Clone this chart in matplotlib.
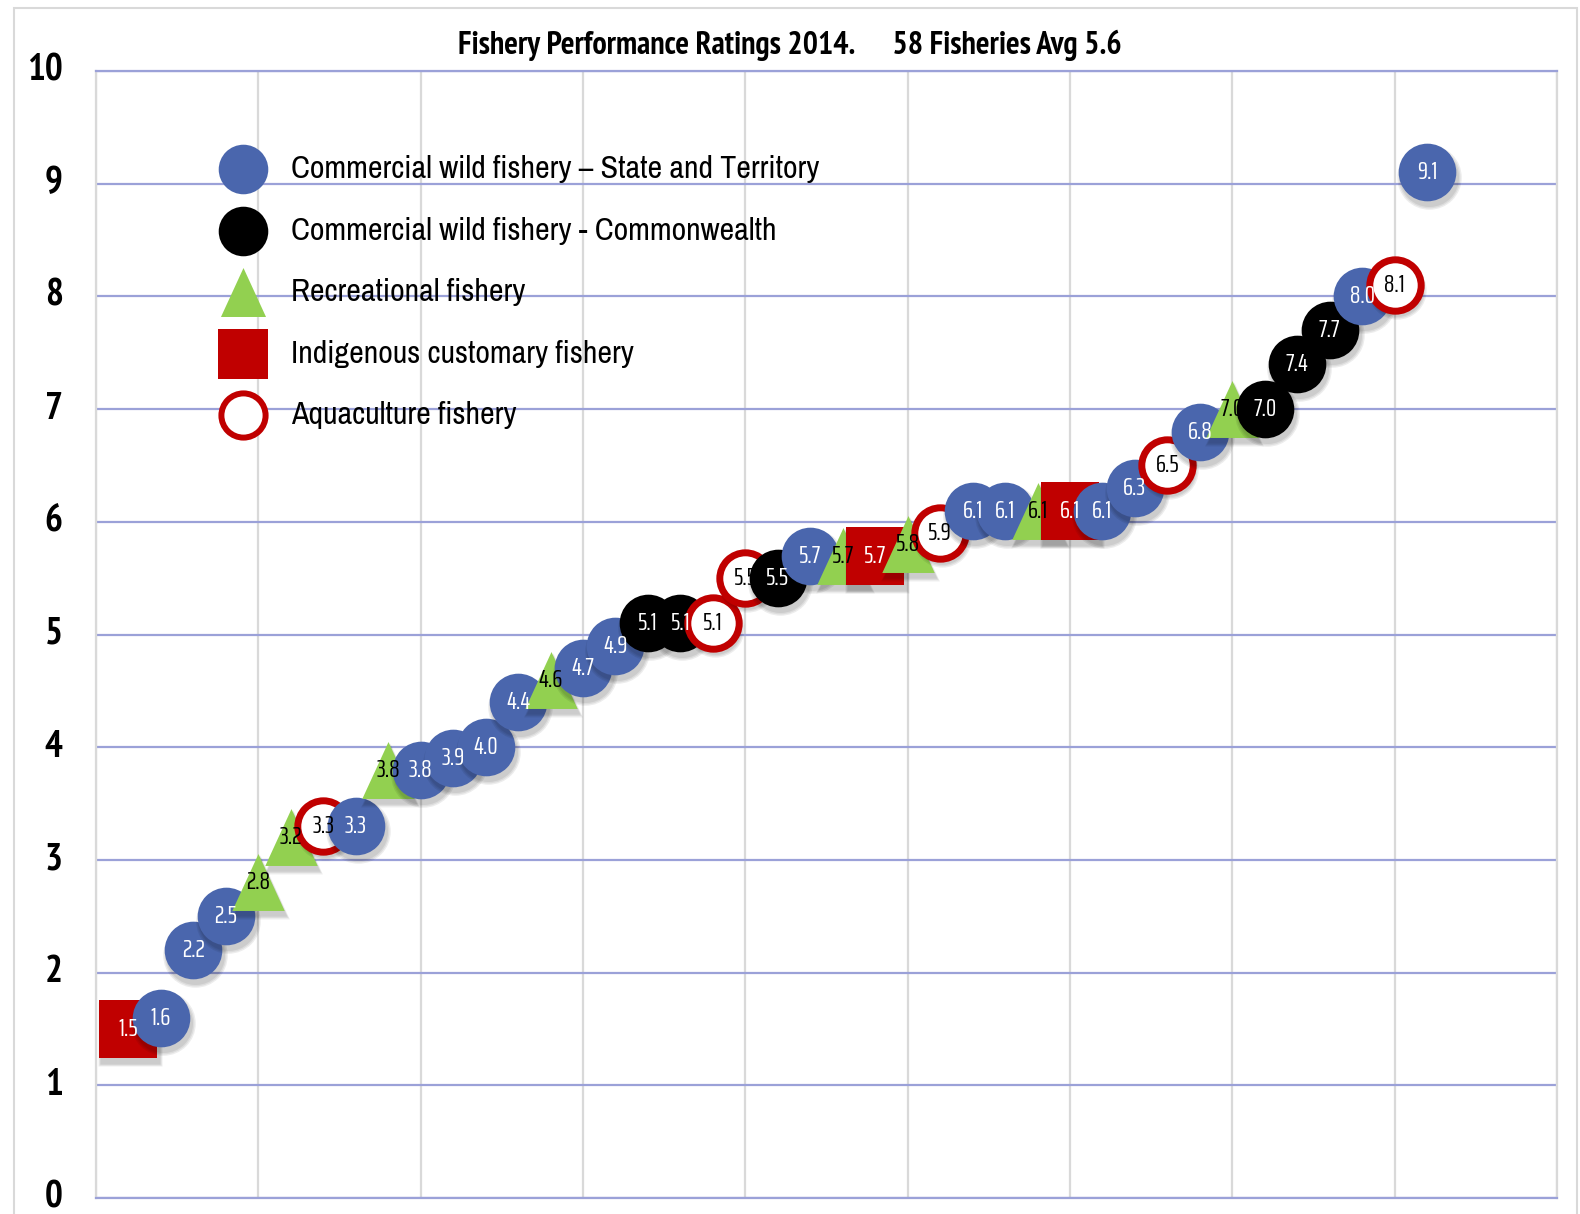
import matplotlib
matplotlib.use("Agg")
import matplotlib.pyplot as plt
from matplotlib.path import Path
from matplotlib.transforms import offset_copy
from matplotlib.patches import Rectangle

# Fisheries ranked from lowest to highest performance rating
ratings = [1.5, 1.6, 2.2, 2.5, 2.8, 3.2, 3.3, 3.3, 3.8, 3.8,
           3.9, 4.0, 4.4, 4.6, 4.7, 4.9, 5.1, 5.1, 5.1, 5.5,
           5.5, 5.7, 5.7, 5.7, 5.8, 5.9, 6.1, 6.1, 6.1, 6.1,
           6.1, 6.3, 6.5, 6.8, 7.0, 7.0, 7.4, 7.7, 8.0, 8.1,
           9.1]
# S = state/territory, C = commonwealth, R = recreational,
# I = indigenous customary, A = aquaculture
kinds = ["I", "S", "S", "S", "R", "R", "A", "S", "R", "S",
         "S", "S", "S", "R", "S", "S", "C", "C", "A", "A",
         "C", "S", "R", "I", "R", "A", "S", "S", "R", "I",
         "S", "S", "A", "S", "R", "C", "C", "C", "S", "A",
         "S"]
rank = list(range(1, len(ratings) + 1))

legend_order = ["S", "C", "R", "I", "A"]
legend_text = {
    "S": "Commercial wild fishery \u2013 State and Territory",
    "C": "Commercial wild fishery - Commonwealth",
    "R": "Recreational fishery",
    "I": "Indigenous customary fishery",
    "A": "Aquaculture fishery",
}
title = "Fishery Performance Ratings 2014.      58 Fisheries Avg 5.6"

BLUE, GREEN, RED = "#4a66ad", "#92d050", "#c00000"
HGRID, VGRID = "#9ba1d8", "#d9d9d9"

TRI = Path([(-0.46, -0.5), (0.46, -0.5), (0.0, 0.5), (-0.46, -0.5)],
           [Path.MOVETO, Path.LINETO, Path.LINETO, Path.CLOSEPOLY])

# marker, size (pt), face, edge, edge width, label colour
STYLE = {
    "S": dict(marker="o", ms=41.5, mfc=BLUE, mec=BLUE, mew=0, txt="white"),
    "C": dict(marker="o", ms=41.5, mfc="black", mec="black", mew=0, txt="white"),
    "R": dict(marker=TRI, ms=41.0, mfc=GREEN, mec=GREEN, mew=0, txt="black"),
    "I": dict(marker="s", ms=41.5, mfc=RED, mec=RED, mew=0, txt="white"),
    "A": dict(marker="o", ms=37.0, mfc="white", mec=RED, mew=5.0, txt="black"),
}

LABEL_FONT = "Saira ExtraCondensed"
TEXT_FONT = "Archivo Narrow"
BOLD_FONT = "PT Sans Narrow"

fig = plt.figure(figsize=(15.8, 12.14), dpi=100)
fig.patches.append(Rectangle((14 / 1580, -0.05), 1563 / 1580, 1.05 - 8 / 1214,
                             transform=fig.transFigure, fill=False,
                             ec="#d9d9d9", lw=1.5, zorder=0))
ax = fig.add_axes([96 / 1580, 16 / 1214, 1461 / 1580, 1127 / 1214])
ax.set_xlim(0, 45)
ax.set_ylim(0, 10)

ax.set_xticks(range(0, 46, 5))
ax.set_yticks(range(0, 11))
ax.set_xticklabels([])
ax.tick_params(length=0)
ax.tick_params(axis="y", pad=24)
for lab in ax.get_yticklabels():
    lab.set_fontfamily(BOLD_FONT)
    lab.set_fontweight("bold")
    lab.set_fontsize(27)
    lab.set_verticalalignment("center")

ax.set_axisbelow(True)
ax.grid(axis="y", color=HGRID, lw=1.6)
ax.grid(axis="x", color=VGRID, lw=1.6)
for side in ("left", "right"):
    ax.spines[side].set_color(VGRID)
    ax.spines[side].set_linewidth(1.6)
for side in ("top", "bottom"):
    ax.spines[side].set_color(HGRID)
    ax.spines[side].set_linewidth(1.6)

shadow_tr = offset_copy(ax.transData, fig=fig, x=2, y=-5, units="dots")

for i, (x, v, k) in enumerate(zip(rank, ratings, kinds)):
    st = STYLE[k]
    z = 3 + i * 0.01
    # soft drop shadow
    for grow in (1, 3, 5):
        ax.plot(x, v, marker=st["marker"], ms=st["ms"] + grow, mfc="black",
                mec="none", alpha=0.07, ls="none", transform=shadow_tr,
                zorder=z, clip_on=False)
    ax.plot(x, v, marker=st["marker"], ms=st["ms"], mfc=st["mfc"], mec=st["mec"],
            mew=st["mew"], ls="none", zorder=z + 0.005, clip_on=False)
    # value labels sit above every marker
    ax.text(x, v, f"{v:.1f}", ha="center", va="center", color=st["txt"],
            fontsize=18.5, family=LABEL_FONT, zorder=8)

# key in the upper-left of the plot
for j, k in enumerate(legend_order):
    st = STYLE[k]
    yk = 0.913 - j * 0.0546
    scale = 0.86
    ax.plot(0.1006, yk, marker=st["marker"], ms=st["ms"] * scale,
            mfc=st["mfc"], mec=st["mec"], mew=st["mew"] * scale, ls="none",
            transform=ax.transAxes, zorder=10, clip_on=False)
    ax.text(0.1335, yk, legend_text[k], transform=ax.transAxes, ha="left",
            va="center", fontsize=23, family=TEXT_FONT, zorder=10)

fig.text(790 / 1580, 1 - 45 / 1214, title, ha="center", va="center",
         fontsize=23, fontweight="bold", family=BOLD_FONT)

fig.savefig("out.png", dpi=100)
